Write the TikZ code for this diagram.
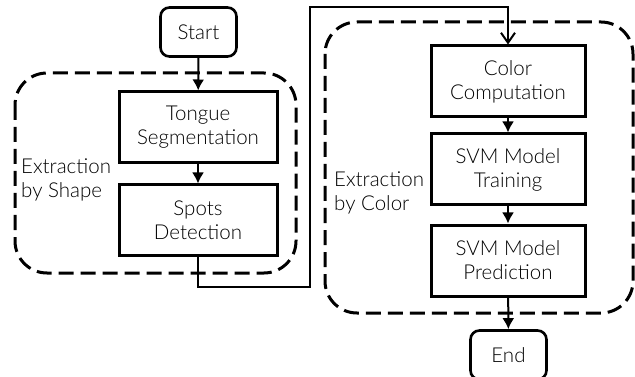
\documentclass[tikz,border=0pt]{standalone}
\usepackage{fontspec}
\setmainfont{Lato Light}
\usetikzlibrary{arrows.meta}
\begin{document}
\begin{tikzpicture}[x=1pt,y=-1pt,
  every node/.style={font=\fontsize{20.5}{24}\selectfont},
  proc/.style={draw, line width=3pt, align=center, inner sep=0pt, minimum width=156pt, minimum height=70pt},
  term/.style={draw, line width=2.6pt, rounded corners=9pt, align=center, inner sep=0pt, minimum width=76pt, minimum height=49pt},
  group/.style={draw, dash pattern=on 15pt off 7pt, line width=3pt, rounded corners=32pt},
  conn/.style={line width=2pt, -{Latex[length=11pt,width=12pt]}},
  openconn/.style={line width=2pt, -{Straight Barb[length=10pt,width=14pt,line width=2pt]}},
  lbl/.style={align=left, inner sep=0pt, anchor=west}
]
\useasboundingbox (0,0) rectangle (635,377);
% groups
\draw[group] (15,73) rectangle (296,273);
\draw[group] (325,22) rectangle (633,313);
% nodes
\node[term] (start) at (198.5,32) {Start};
\node[proc, minimum width=158pt, minimum height=71pt] (tongue) at (198,127.5) {Tongue\\Segmentation};
\node[proc, minimum width=158pt, minimum height=70pt] (spots) at (198,220) {Spots\\Detection};
\node[proc, minimum width=154pt, minimum height=71pt] (color) at (508,81.5) {Color\\Computation};
\node[proc, minimum width=154pt, minimum height=71pt] (train) at (508,169.5) {SVM Model\\Training};
\node[proc, minimum width=154pt, minimum height=71pt] (pred) at (508,260.5) {SVM Model\\Prediction};
\node[term] (end) at (508.5,355) {End};
% labels
\node[lbl] (lshape) at (21,180) {Extraction\\by Shape};
\node[lbl] (lcolor) at (334,193) {Extraction\\by Color};
% connectors
\coordinate (c1) at (198,287);
\coordinate (c2) at (310,287);
\coordinate (c3) at (310,7);
\coordinate (c4) at (508,7);
\draw[conn] (start) -- (tongue);
\draw[conn] (tongue) -- (spots);
\draw[openconn] (spots.south) -- (c1) -- (c2) -- (c3) -- (c4) -- (color.north);
\draw[conn] (color) -- (train);
\draw[conn] (train) -- (pred);
\draw[conn] (pred) -- (end);
\end{tikzpicture}
\end{document}
